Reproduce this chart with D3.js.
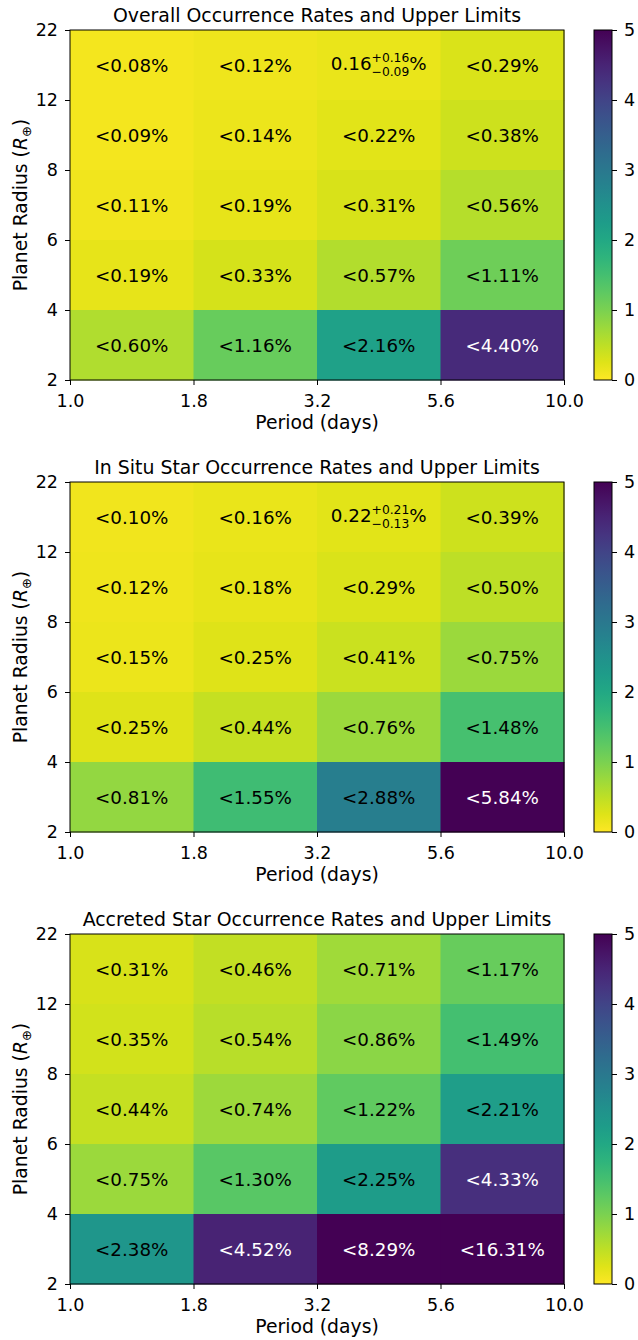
<!DOCTYPE html>
<html><head><meta charset="utf-8">
<script src="https://cdn.jsdelivr.net/npm/d3@7"></script>
<style>body{margin:0;background:#fff}svg{display:block}text{font-family:"DejaVu Sans",sans-serif}</style>
</head><body>
<script>
const periodEdges = ["1.0","1.8","3.2","5.6","10.0"];
const radiusEdges = ["2","4","6","8","12","22"];
const colorbarTicks = [0,1,2,3,4,5];
const titles = ["Overall Occurrence Rates and Upper Limits",
                "In Situ Star Occurrence Rates and Upper Limits",
                "Accreted Star Occurrence Rates and Upper Limits"];
// rows listed top (12–22 R⊕) to bottom (2–4 R⊕); columns 1.0–1.8 … 5.6–10.0 days; values in %
const overallRates = [
  [0.08,0.12,0.16,0.29],
  [0.09,0.14,0.22,0.38],
  [0.11,0.19,0.31,0.56],
  [0.19,0.33,0.57,1.11],
  [0.60,1.16,2.16,4.40]];
const inSituRates = [
  [0.10,0.16,0.22,0.39],
  [0.12,0.18,0.29,0.50],
  [0.15,0.25,0.41,0.75],
  [0.25,0.44,0.76,1.48],
  [0.81,1.55,2.88,5.84]];
const accretedRates = [
  [0.31,0.46,0.71,1.17],
  [0.35,0.54,0.86,1.49],
  [0.44,0.74,1.22,2.21],
  [0.75,1.30,2.25,4.33],
  [2.38,4.52,8.29,16.31]];
// measured detections (row, col, value, +err, -err); null = none
const overallMeasured = [0,2,0.16,0.16,0.09];
const inSituMeasured = [0,2,0.22,0.21,0.13];
const accretedMeasured = null;

const panels = [
  {title:titles[0], rates:overallRates, meas:overallMeasured},
  {title:titles[1], rates:inSituRates, meas:inSituMeasured},
  {title:titles[2], rates:accretedRates, meas:accretedMeasured}];

const W=638,H=1340, FS=17.5, CFS=18.3, LFS=18.8, TFS=18.9, SFS=12.3;
const svg=d3.select("body").append("svg").attr("width",W).attr("height",H);
const defs=svg.append("defs");
const color=d3.scaleSequential(t=>d3.interpolateViridis(1-t)).domain([0,5]).clamp(true);
const grad=defs.append("linearGradient").attr("id","cb").attr("x1",0).attr("x2",0).attr("y1",1).attr("y2",0);
d3.range(0,1.0001,0.05).forEach(t=>grad.append("stop").attr("offset",t).attr("stop-color",color(t*5)));

const tops=[30,482,934];
const L=70, PW=494, PH=350, CBX=594, CBW=18;

panels.forEach((p,pi)=>{
  const g=svg.append("g").attr("transform",`translate(0,${tops[pi]})`);
  const x=d3.scaleLinear().domain([0,periodEdges.length-1]).range([L,L+PW]);
  const y=d3.scaleLinear().domain([0,radiusEdges.length-1]).range([PH,0]);
  const nRows=p.rates.length;
  const cells=[];
  p.rates.forEach((row,r)=>row.forEach((v,c)=>cells.push({r,c,v,bi:nRows-1-r})));
  g.selectAll("rect.cell").data(cells).join("rect").attr("class","cell")
    .attr("x",d=>x(d.c)).attr("y",d=>y(d.bi+1))
    .attr("width",d=>x(d.c+1)-x(d.c)+0.5).attr("height",d=>y(d.bi)-y(d.bi+1)+0.5)
    .attr("fill",d=>color(d.v));
  cells.forEach(d=>{
    const cx=(x(d.c)+x(d.c+1))/2, cy=(y(d.bi)+y(d.bi+1))/2;
    const fill=d.v>3?"#fff":"#000";
    const m=p.meas;
    if(m && m[0]===d.r && m[1]===d.c){
      const tg=g.append("g");
      const base=cy+5.2;
      const t1=tg.append("text").attr("y",base).attr("font-size",CFS).attr("fill",fill).text(m[2].toFixed(2));
      const ts=tg.append("text").attr("y",base-8.6).attr("font-size",SFS).attr("fill",fill).text("+"+m[3].toFixed(2));
      const tb=tg.append("text").attr("y",base+5.5).attr("font-size",SFS).attr("fill",fill).text("\u2212"+m[4].toFixed(2));
      const tp=tg.append("text").attr("y",base).attr("font-size",CFS).attr("fill",fill).text("%");
      const w1=t1.node().getComputedTextLength(), ws=Math.max(ts.node().getComputedTextLength(),tb.node().getComputedTextLength()), wp=tp.node().getComputedTextLength();
      const x0=cx-(w1+ws+wp)/2;
      t1.attr("x",x0); ts.attr("x",x0+w1); tb.attr("x",x0+w1); tp.attr("x",x0+w1+ws);
    } else {
      g.append("text").attr("x",cx).attr("y",cy).attr("dy","0.36em").attr("text-anchor","middle")
        .attr("font-size",CFS).attr("fill",fill).text("<"+d.v.toFixed(2)+"%");
    }
  });
  g.append("rect").attr("x",L).attr("y",0).attr("width",PW).attr("height",PH).attr("fill","none").attr("stroke","#000").attr("stroke-width",1);
  const xa=g.append("g").attr("transform",`translate(0,${PH})`)
    .call(d3.axisBottom(x).tickValues(d3.range(periodEdges.length)).tickFormat(i=>periodEdges[i]).tickSize(5).tickPadding(9.5));
  const ya=g.append("g").attr("transform",`translate(${L},0)`)
    .call(d3.axisLeft(y).tickValues(d3.range(radiusEdges.length)).tickFormat(i=>radiusEdges[i]).tickSize(5).tickPadding(7));
  [xa,ya].forEach(a=>{a.select(".domain").remove();a.selectAll("text").attr("font-size",FS).attr("fill","#000").attr("font-family","DejaVu Sans");a.selectAll("line").attr("stroke","#000");});
  g.append("text").attr("x",L+PW/2).attr("y",PH+49).attr("text-anchor","middle").attr("font-size",LFS).text("Period (days)");
  const yl=g.append("text").attr("transform",`translate(27,${PH/2}) rotate(-90)`).attr("text-anchor","middle").attr("font-size",LFS);
  yl.append("tspan").text("Planet Radius (");
  yl.append("tspan").attr("font-style","italic").text("R");
  yl.append("tspan").attr("font-size",13).attr("dy",4).text("\u2295");
  yl.append("tspan").attr("dy",-4).text(")");
  g.append("text").attr("x",L+PW/2).attr("y",-8.5).attr("text-anchor","middle").attr("font-size",TFS).text(p.title);
  // colorbar
  const cs=d3.scaleLinear().domain([0,5]).range([PH,0]);
  g.append("rect").attr("x",CBX).attr("y",0).attr("width",CBW).attr("height",PH).attr("fill","url(#cb)").attr("stroke","#000").attr("stroke-width",1);
  const ca=g.append("g").attr("transform",`translate(${CBX+CBW},0)`).call(d3.axisRight(cs).tickValues(colorbarTicks).tickFormat(d3.format("d")).tickSize(5).tickPadding(7));
  ca.select(".domain").remove();
  ca.selectAll("text").attr("font-size",FS).attr("fill","#000").attr("font-family","DejaVu Sans");
  ca.selectAll("line").attr("stroke","#000");
});
</script>
</body></html>
